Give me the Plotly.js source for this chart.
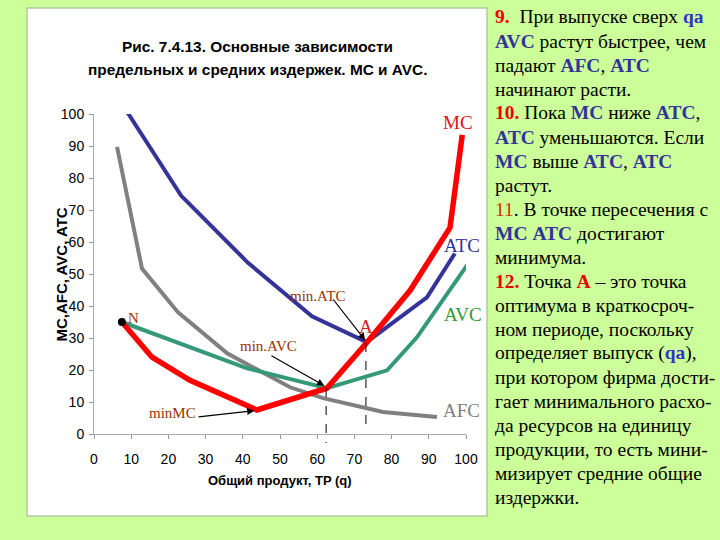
<!DOCTYPE html>
<html><head><meta charset="utf-8">
<script src="https://cdn.plot.ly/plotly-3.0.1.min.js"></script>
<style>body{margin:0;background:#ccff99}#c{width:720px;height:540px}</style>
</head><body><div id="c"></div>
<script>
// ---- data ----
const atcX = [9.1, 23.4, 41.4, 58.6, 73.3, 89.5, 97.0];
const atcY = [100.3, 74.5, 53.5, 36.8, 28.7, 42.7, 56.4];
const mcX  = [7.5, 15.6, 25.8, 43.8, 62.6, 73.3, 85.0, 95.7, 99.0];
const mcY  = [35.0, 24.0, 16.8, 7.5, 14.3, 28.5, 44.9, 64.5, 93.5];
const avcX = [7.5, 41.0, 62.6, 78.8, 86.8, 100.7];
const avcY = [35.0, 20.6, 14.3, 19.9, 30.2, 53.4];
const afcX = [6.2, 12.9, 22.6, 35.8, 52.7, 61.6, 77.7, 92.2];
const afcY = [89.7, 51.7, 38.0, 25.2, 14.6, 11.2, 6.9, 5.3];
const pointN = [7.5, 35.0];
const qb = 62.4, qa = 73.1;
const xTicks = [0,10,20,30,40,50,60,70,80,90,100];
const yTicks = [0,10,20,30,40,50,60,70,80,90,100];

const serif = 'Liberation Serif, Times New Roman, serif';
const narrow = 'Liberation Sans Narrow, Arial Narrow, Liberation Sans, Arial, sans-serif';
const brown = '#993300';
const navy = '#333399';

const traces = [
  {x: afcX, y: afcY, mode:'lines', line:{color:'#808080', width:4}, hoverinfo:'skip'},
  {x: avcX, y: avcY, mode:'lines', line:{color:'#339977', width:4}, hoverinfo:'skip'},
  {x: atcX, y: atcY, mode:'lines', line:{color:'#333399', width:4}, hoverinfo:'skip'},
  {x: mcX, y: mcY, mode:'lines', line:{color:'#ff0000', width:5.5}, hoverinfo:'skip'},
  {x: [pointN[0]], y: [pointN[1]], mode:'markers', marker:{color:'#000', size:8}, hoverinfo:'skip'}
];

// paper coords from pixels
const py = p => (434 - p) / 320;
const px = p => (p - 94) / 372;

const K = s => '<b><span style="color:#333399">' + s + '</span></b>';
const R = s => '<b><span style="color:#ee0000">' + s + '</span></b>';
const rightLines = [
  R('9.') + '  При выпуске сверх <b><span style="color:#3333cc">qa</span></b>',
  K('AVC') + ' растут быстрее, чем',
  'падают ' + K('AFC') + ', ' + K('ATC'),
  'начинают расти.',
  R('10.') + ' Пока ' + K('MC') + ' ниже ' + K('ATC') + ',',
  K('ATC') + ' уменьшаются. Если',
  K('MC') + ' выше ' + K('ATC') + ', ' + K('ATC'),
  'растут.',
  '<span style="color:#cc3300">11</span>. В точке пересечения с',
  K('MC') + ' ' + K('ATC') + ' достигают',
  'минимума.',
  R('12.') + ' Точка ' + R('А') + ' – это точка',
  'оптимума в краткосроч-',
  'ном периоде, поскольку',
  'определяет выпуск (<b><span style="color:#3333cc">qa</span></b>),',
  'при котором фирма дости-',
  'гает минимального расхо-',
  'да ресурсов на единицу',
  'продукции, то есть мини-',
  'мизирует средние общие',
  'издержки.'
];

const ann = [];
rightLines.forEach((t, i) => {
  ann.push({xref:'paper', yref:'paper', x: px(493), y: py(17 + 24*i), xanchor:'left', yanchor:'middle',
    text: t, showarrow:false, font:{family: serif, size: 19.5, color:'#000'}});
});
// title
ann.push({xref:'paper', yref:'paper', x: px(257), y: py(36), text:'<b>Рис. 7.4.13. Основные зависимости</b>',
  showarrow:false, font:{family: narrow, size:15.4, color:'#000'}});
ann.push({xref:'paper', yref:'paper', x: px(257), y: py(59), text:'<b>предельных и средних издержек. МС и AVC.</b>',
  showarrow:false, font:{family: narrow, size:15.4, color:'#000'}});
// axis titles
ann.push({xref:'paper', yref:'paper', x: px(50), y: py(275), textangle:-90, text:'<b>MC,AFC, AVC, ATC</b>',
  showarrow:false, font:{family: 'Liberation Sans, Arial, sans-serif', size:15, color:'#000'}});
ann.push({xref:'paper', yref:'paper', x: px(280), y: py(490), text:'<b>Общий продукт, TP (q)</b>',
  showarrow:false, font:{family: narrow, size:13, color:'#000'}});
// curve labels
const lbl = (x, y, t, c, s) => ann.push({x, y, text:t, showarrow:false, font:{family: serif, size:s, color:c}});
lbl(97.8, 97.2, 'MC', '#dd1111', 19);
lbl(98.9, 58.8, 'ATC', navy, 19);
lbl(99.2, 37.5, 'AVC', '#339933', 19);
lbl(98.9, 7.5, 'AFC', '#808080', 19);
lbl(73.1, 33.6, 'A', '#cc2222', 19);
lbl(10.7, 36.4, 'N', brown, 15);
lbl(60.2, 43.1, 'min.ATC', brown, 15);
lbl(46.8, 27.5, 'min.AVC', brown, 15);
lbl(21.2, 6.6, 'minMC', brown, 15);
lbl(62.4, -3.2, 'qb', navy, 16);
lbl(73.9, -1.6, 'qa', navy, 16);
// arrows
const arr = (x0, y0, x1, y1) => ann.push({x: x1, y: y1, ax: x0, ay: y0, axref:'x', ayref:'y', text:'',
  showarrow:true, arrowhead:2, arrowsize:1.2, arrowwidth:1.2, arrowcolor:'#000'});
arr(64.0, 42.5, 72.9, 29.3);
arr(47.3, 24.7, 61.9, 15.1);
arr(27.7, 5.3, 43.1, 7.3);

const shapes = [
  {type:'rect', xref:'paper', yref:'paper', x0: px(27), x1: px(487), y0: py(516), y1: py(8),
   fillcolor:'#ffffff', line:{color:'#b4c8a4', width:1.5}, layer:'below'},
  {type:'line', xref:'x', yref:'paper', x0: qb, x1: qb, y0: py(388), y1: py(443),
   line:{color:'#000', width:1, dash:'dash'}},
  {type:'line', xref:'x', yref:'paper', x0: qa, x1: qa, y0: py(343), y1: py(432),
   line:{color:'#000', width:1, dash:'dash'}}
];

const layout = {
  width:720, height:540, paper_bgcolor:'#ccff99', plot_bgcolor:'rgba(0,0,0,0)',
  margin:{l:94, r:254, t:114, b:106}, showlegend:false,
  xaxis:{range:[0,100], tickvals:xTicks, ticks:'outside', ticklen:4, tickcolor:'#999',
    showline:true, linecolor:'#aaa', linewidth:1, showgrid:false, zeroline:false,
    ticklabelstandoff:8, tickfont:{family: narrow, size:14, color:'#000'}, fixedrange:true},
  yaxis:{range:[0,100], tickvals:yTicks, ticks:'outside', ticklen:4, tickcolor:'#999',
    showline:true, linecolor:'#aaa', linewidth:1, showgrid:false, zeroline:false,
    ticklabelstandoff:2, tickfont:{family: narrow, size:14, color:'#000'}, fixedrange:true},
  annotations: ann, shapes: shapes
};
Plotly.newPlot('c', traces, layout, {staticPlot:true, displayModeBar:false});
</script></body></html>
